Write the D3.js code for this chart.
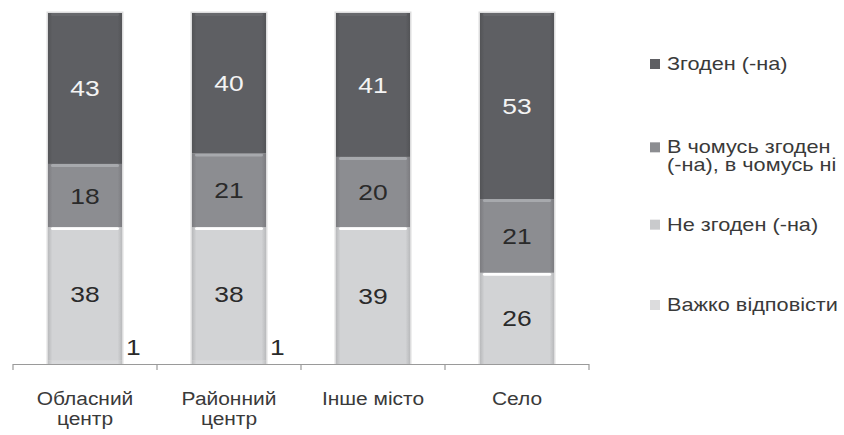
<!DOCTYPE html>
<html>
<head>
<meta charset="utf-8">
<script src="https://cdn.jsdelivr.net/npm/d3@7"></script>
<style>
  html, body { margin: 0; padding: 0; background: #ffffff; }
  svg { display: block; font-family: "Liberation Sans", Arial, sans-serif; }
</style>
</head>
<body>
<script>
// ---- data ----
const categories = ["Обласний центр", "Районний центр", "Інше місто", "Село"];
const categoryLines = [["Обласний", "центр"], ["Районний", "центр"], ["Інше місто"], ["Село"]];
const seriesNames = ["Згоден (-на)", "В чомусь згоден (-на), в чомусь ні", "Не згоден (-на)", "Важко відповісти"];
const legendLines = [["Згоден (-на)"], ["В чомусь згоден", "(-на), в чомусь ні"], ["Не згоден (-на)"], ["Важко відповісти"]];
const agree = [43, 40, 41, 53];
const partly = [18, 21, 20, 21];
const disagree = [38, 38, 39, 26];
const hardToSay = [1, 1, 0, 0];

// ---- styles ----
const seriesKeys = ["agree", "partly", "disagree", "hard"];
const colors = { agree: "#5e5f63", partly: "#8c8d91", disagree: "#d2d3d5", hard: "#d8d9db" };
const labelColors = { agree: "#f4f4f4", partly: "#2a2a2a", disagree: "#2a2a2a", hard: "#2a2a2a" };
const legendColors = { agree: "#5e5f63", partly: "#8c8d91", disagree: "#c9cacc", hard: "#dcdcdd" };
const textStretch = 1.2;

const W = 844, H = 435;
const svg = d3.select("body").append("svg").attr("width", W).attr("height", H);

const rows = categories.map((c, i) => ({
  cat: c, agree: agree[i], partly: partly[i], disagree: disagree[i], hard: hardToSay[i]
}));
const stackOrder = ["hard", "disagree", "partly", "agree"]; // bottom to top
const stacked = d3.stack().keys(stackOrder)(rows);

const x = d3.scaleBand().domain(categories).range([13, 589]).paddingInner(0.486).paddingOuter(0.243);
const y = d3.scaleLinear().domain([0, 100]).range([364, 13]);
const bw = x.bandwidth();

// gradients for bevel look
const defs = svg.append("defs");
function shade(c, k) { return d3.color(c).darker(k).formatHex(); }
function tint(c, k) { return d3.color(c).brighter(k).formatHex(); }
stackOrder.forEach(k => {
  const g = defs.append("linearGradient").attr("id", "g-" + k)
    .attr("x1", 0).attr("x2", 1).attr("y1", 0).attr("y2", 0);
  g.append("stop").attr("offset", 0).attr("stop-color", shade(colors[k], 0.35));
  g.append("stop").attr("offset", 0.06).attr("stop-color", colors[k]);
  g.append("stop").attr("offset", 0.94).attr("stop-color", colors[k]);
  g.append("stop").attr("offset", 1).attr("stop-color", shade(colors[k], 0.35));
});

// bar halos
svg.append("g").selectAll("rect").data(rows).join("rect")
  .attr("x", d => x(d.cat) - 1.5)
  .attr("width", bw + 3)
  .attr("y", y(100) - 1.5)
  .attr("height", y(0) - y(100) + 1.5)
  .attr("fill", "#cfcfd0")
  .attr("opacity", 0.7);

// segments
const layer = svg.append("g").selectAll("g").data(stacked).join("g");
layer.selectAll("rect.seg").data(s => s.map(d => ({ key: s.key, d }))).join("rect")
  .attr("class", "seg")
  .attr("x", o => x(o.d.data.cat))
  .attr("width", bw)
  .attr("y", o => y(o.d[1]))
  .attr("height", o => Math.max(0, y(o.d[0]) - y(o.d[1])))
  .attr("fill", o => `url(#g-${o.key})`);

// top highlights on segments
layer.selectAll("rect.hl").data(s => s.map(d => ({ key: s.key, d })).filter(o => o.d[1] - o.d[0] >= 3)).join("rect")
  .attr("class", "hl")
  .attr("x", o => x(o.d.data.cat) + 3)
  .attr("width", bw - 6)
  .attr("y", o => y(o.d[1]))
  .attr("height", 3)
  .attr("rx", 1.5)
  .attr("fill", o => o.key === "agree" ? tint(colors[o.key], 0.25) : (o.key === "disagree" ? "#ffffff" : tint(colors[o.key], 0.5)));

// value labels
const labelG = svg.append("g").attr("font-size", 22);
stacked.forEach(s => {
  s.forEach(d => {
    const v = d[1] - d[0];
    if (v <= 0) return;
    let tx, ty, anchor;
    if (v >= 5) {
      tx = x(d.data.cat) + bw / 2;
      ty = (y(d[0]) + y(d[1])) / 2 + 8;
      anchor = "middle";
    } else {
      tx = x(d.data.cat) + bw + 4;
      ty = y(d[1]) - 5;
      anchor = "start";
    }
    labelG.append("text")
      .attr("transform", `translate(${tx},${ty}) scale(${textStretch},1)`)
      .attr("text-anchor", anchor)
      .attr("fill", v >= 5 ? labelColors[s.key] : "#2a2a2a")
      .text(v);
  });
});

// axis
const axisG = svg.append("g");
axisG.append("line")
  .attr("x1", x.range()[0]).attr("x2", x.range()[1])
  .attr("y1", y(0) + 0.5).attr("y2", y(0) + 0.5)
  .attr("stroke", "#9a9a9a").attr("stroke-width", 1.2);
d3.range(categories.length + 1).forEach(i => {
  const tx = x.range()[0] + i * x.step();
  axisG.append("line")
    .attr("x1", tx).attr("x2", tx)
    .attr("y1", y(0)).attr("y2", y(0) + 6)
    .attr("stroke", "#9a9a9a").attr("stroke-width", 1.2);
});

// category labels
const catG = svg.append("g").attr("font-size", 18).attr("fill", "#3a3a3a");
categories.forEach((c, i) => {
  categoryLines[i].forEach((ln, j) => {
    catG.append("text")
      .attr("transform", `translate(${x(c) + bw / 2},${405 + j * 20}) scale(${textStretch * 0.97},1)`)
      .attr("text-anchor", "middle")
      .text(ln);
  });
});

// legend
const ly = d3.scalePoint().domain(seriesKeys).range([64, 305]);
const legG = svg.append("g").attr("font-size", 17.5).attr("fill", "#3a3a3a");
seriesKeys.forEach((k, i) => {
  const cy = ly(k) + (legendLines[i].length > 1 ? 3 : 0);
  legG.append("rect")
    .attr("x", 650).attr("y", cy - 5).attr("width", 10).attr("height", 10)
    .attr("fill", legendColors[k]);
  legendLines[i].forEach((ln, j) => {
    legG.append("text")
      .attr("transform", `translate(667,${cy + 6 + j * 18}) scale(1.24,1)`)
      .text(ln);
  });
});
</script>
</body>
</html>
